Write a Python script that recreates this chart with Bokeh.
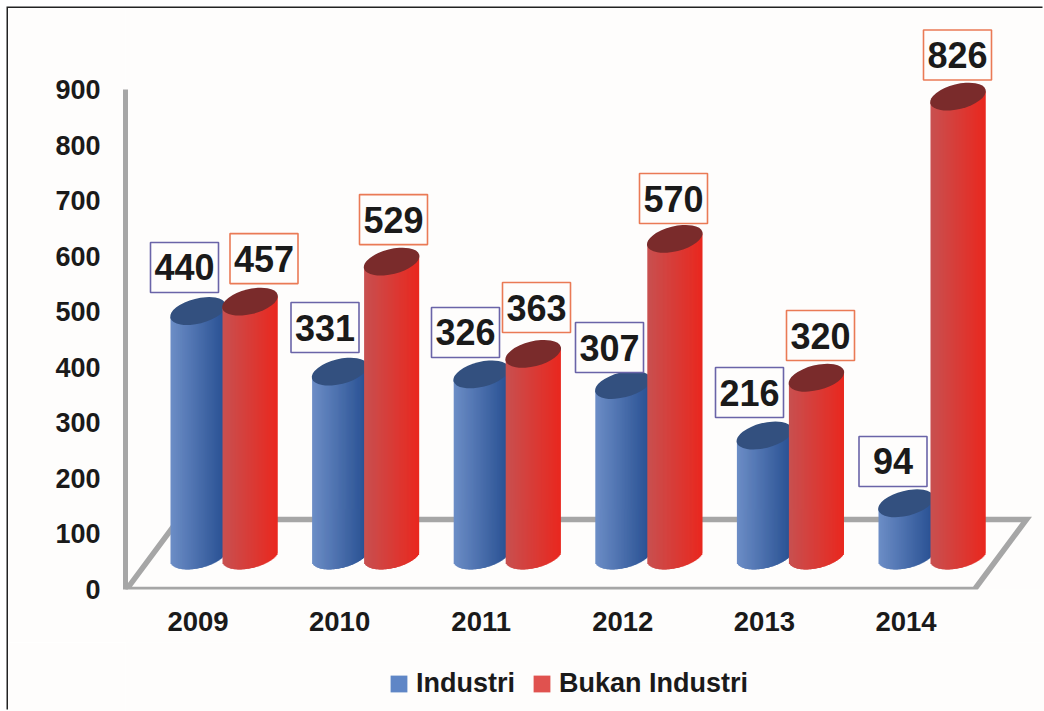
import math
from bokeh.core.properties import value
from bokeh.embed import file_html
from bokeh.layouts import column
from bokeh.models import ColumnDataSource, FixedTicker, Legend, LegendItem, Range1d
from bokeh.plotting import figure
from bokeh.resources import INLINE

# ---- data
years = ["2009", "2010", "2011", "2012", "2013", "2014"]
industri = [440, 331, 326, 307, 216, 94]
bukan_industri = [457, 529, 363, 570, 320, 826]
y_ticks = [0, 100, 200, 300, 400, 500, 600, 700, 800, 900]

# ---- label box placement relative to the top of each bar, in pixels
blue_label_dx = [-13.5, -14.6, -15.7, -13.3, -14.9, -13.0]
blue_label_dy = [43.6, 44.1, 41.9, 37.4, 43.0, 41.8]
red_label_dx = [14.0, 1.9, 3.3, -1.3, 4.1, -0.5]
red_label_dy = [43.0, 42.0, 46.3, 40.3, 42.2, 41.6]

# ---- layout
PAGE_MARGIN = 8
W, H = 1036, 634
LEGEND_H = 69
FRAME_LEFT, FRAME_BOTTOM = 117, 581                   # relative to the figure
PX_PER_UNIT = 500 / 900
PX_PER_CAT = 141.6
FLOOR_LIFT_PX = 34                                    # bars stand on the 3D floor
FIRST_CAT_PX = 197.5 - 8 - FRAME_LEFT                 # first blue bar inside the frame
RED_SHIFT_PX = 52
FONT = value("Liberation Sans")
GREY = "#a6a6a6"
INK = "#1a1a1a"
PAPER = "#fefdfc"
EDGE = "#222222"

frame_w = W - FRAME_LEFT
frame_h = FRAME_BOTTOM
x0 = -FIRST_CAT_PX / PX_PER_CAT
x_range = Range1d(x0, x0 + frame_w / PX_PER_CAT)
y_top = frame_h / PX_PER_UNIT
y_range = Range1d(0, y_top)
lift = FLOOR_LIFT_PX / PX_PER_UNIT

p = figure(width=W, height=H, x_range=x_range, y_range=y_range,
           output_backend="svg", toolbar_location=None, tools="",
           min_border_left=FRAME_LEFT, min_border_right=0, min_border_top=0,
           min_border_bottom=H - FRAME_BOTTOM, background_fill_color=PAPER,
           border_fill_color=PAPER, outline_line_color=None,
           frame_height=frame_h, frame_width=frame_w)
p.extra_y_ranges = {"bars": Range1d(-lift, y_top - lift)}
p.grid.visible = False

# axes
ya = p.yaxis[0]
ya.ticker = FixedTicker(ticks=y_ticks)
ya.bounds = (0, 900)
ya.axis_line_color = GREY
ya.axis_line_width = 5
ya.major_tick_line_color = None
ya.minor_tick_line_color = None
ya.major_label_standoff = 19
ya.major_label_text_font = "Liberation Sans"
ya.major_label_text_font_style = "bold"
ya.major_label_text_font_size = "27px"
ya.major_label_text_color = INK

xa = p.xaxis[0]
xa.ticker = FixedTicker(ticks=list(range(len(years))))
xa.major_label_overrides = {i: y for i, y in enumerate(years)}
xa.axis_line_color = None
xa.major_tick_line_color = None
xa.minor_tick_line_color = None
xa.major_label_standoff = 16
xa.major_label_text_font = "Liberation Sans"
xa.major_label_text_font_style = "bold"
xa.major_label_text_font_size = "27.5px"
xa.major_label_text_color = INK

# 3D floor
fx = lambda px: x0 + px / PX_PER_CAT
fy = lambda px: px / PX_PER_UNIT
p.patch(x=[fx(1), fx(849), fx(901), fx(53)], y=[fy(0), fy(0), fy(70), fy(70)],
        fill_color=None, line_color=GREY, line_width=5.5, line_join="miter")

# tilted-ellipse geometry of the cylinders
A_PX, B_PX, TILT = 28.5, 12.5, math.radians(14)
R = 27.5
c, s = math.cos(TILT), math.sin(TILT)
qa = c * c / A_PX ** 2 + s * s / B_PX ** 2
qb = 2 * s * c * (1 / A_PX ** 2 - 1 / B_PX ** 2)
qc = s * s / A_PX ** 2 + c * c / B_PX ** 2


def lerp(c1, c2, t):
    return "#%02x%02x%02x" % tuple(int(round(a + (b - a) * t)) for a, b in zip(c1, c2))


def cylinders(values, shift_px, stops, cap):
    lefts, rights, tops, bottoms, colors = [], [], [], [], []
    n = int(2 * R)
    for i, v in enumerate(values):
        for k in range(n):
            dx = -R + k + 0.5
            disc = max(qb * qb * dx * dx - 4 * qc * (qa * dx * dx - 1), 0)
            mid = -qb * dx / (2 * qc)
            low = mid - math.sqrt(disc) / (2 * qc)
            # each slice runs under the next one, so no seams show the floor through
            lefts.append(i + (shift_px + dx - 0.5) / PX_PER_CAT)
            rights.append(i + (shift_px + dx + (1.5 if k < n - 1 else 0.5)) / PX_PER_CAT)
            tops.append(v + mid / PX_PER_UNIT)
            bottoms.append(low / PX_PER_UNIT)
            colors.append(lerp(stops[0], stops[1], k / (n - 1)))
    src = ColumnDataSource(dict(left=lefts, right=rights, top=tops, bottom=bottoms, color=colors))
    p.quad(left="left", right="right", top="top", bottom="bottom", source=src,
           fill_color="color", line_color=None, y_range_name="bars")
    cx = [i + shift_px / PX_PER_CAT for i in range(len(values))]
    p.ellipse(x=cx, y=values, width=2 * A_PX, height=2 * B_PX, angle=TILT,
              width_units="screen", height_units="screen", fill_color=cap,
              line_color=None, y_range_name="bars")


def labels(values, shift_px, dxs, dys, edge):
    cx = [i + (shift_px + d) / PX_PER_CAT for i, d in enumerate(dxs)]
    cy = [v + d / PX_PER_UNIT for v, d in zip(values, dys)]
    p.rect(x=cx, y=cy, width=68, height=50, width_units="screen", height_units="screen",
           fill_color=PAPER, line_color=edge, line_width=1.6, y_range_name="bars")
    p.text(x=cx, y=cy, text=[str(v) for v in values], text_font=FONT, text_font_style="bold",
           text_font_size="36px", text_align="center", text_baseline="middle",
           text_color=INK, y_range_name="bars")


cylinders(industri, 0, ((0x6c, 0x8d, 0xc6), (0x28, 0x50, 0x92)), "#33507f")
cylinders(bukan_industri, RED_SHIFT_PX, ((0xc8, 0x50, 0x50), (0xe9, 0x28, 0x1f)), "#7a2b2b")
labels(industri, 0, blue_label_dx, blue_label_dy, "#6a64a8")
labels(bukan_industri, RED_SHIFT_PX, red_label_dx, red_label_dy, "#ea7a55")

# legend strip under the chart; its key glyphs sit outside the strip's ranges
q = figure(width=W, height=LEGEND_H, x_range=Range1d(0, 1), y_range=Range1d(0, 1),
           x_axis_type=None, y_axis_type=None, output_backend="svg", toolbar_location=None,
           tools="", min_border=0, background_fill_color=PAPER, border_fill_color=PAPER,
           outline_line_color=None)
q.grid.visible = False
blue_key = q.vbar(x=[-9], top=[-9], bottom=[-10], width=0.1, fill_color="#5f86c6", line_color=None)
red_key = q.vbar(x=[-9], top=[-9], bottom=[-10], width=0.1, fill_color="#e0524f", line_color=None)
legend = Legend(items=[LegendItem(label="Industri", renderers=[blue_key]),
                       LegendItem(label="Bukan Industri", renderers=[red_key])],
                orientation="horizontal", location=(263, 12), padding=0, margin=0,
                border_line_color=None, background_fill_color=None, glyph_width=21,
                glyph_height=21, label_standoff=7, spacing=16,
                label_text_font="Liberation Sans", label_text_font_style="bold",
                label_text_font_size="27px", label_text_color=INK)
q.add_layout(legend, "center")

page = column(p, q, spacing=0, margin=(PAGE_MARGIN, 0, 0, PAGE_MARGIN),
              styles={"box-shadow": f"-1.5px -1.5px 0 0 {EDGE}"})
open("out.html", "w").write(file_html(page, INLINE))
